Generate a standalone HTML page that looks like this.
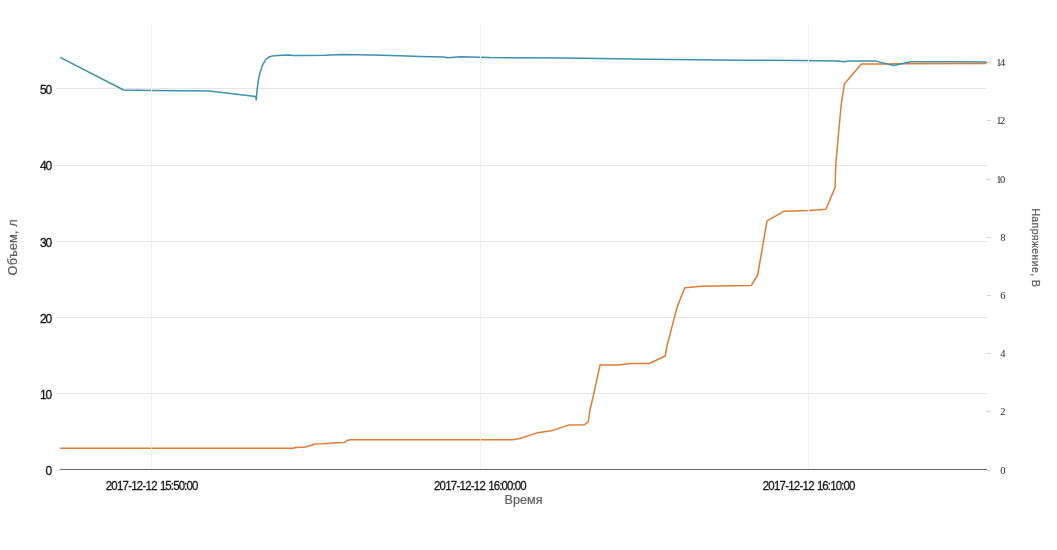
<!DOCTYPE html>
<html><head><meta charset="utf-8"><title>chart</title>
<style>
html,body{margin:0;padding:0;background:#fff;}
body{width:1057px;height:550px;overflow:hidden;font-family:"Liberation Sans",sans-serif;}
svg{display:block;opacity:0.999;will-change:transform;}
.t{font-family:"Liberation Sans",sans-serif;fill:#161616;}
.b{stroke:#161616;stroke-width:0.3px;}
.s{font-family:"Liberation Serif",serif;fill:#2a2a2a;font-size:10.5px;}
.a{font-family:"Liberation Sans",sans-serif;fill:#5e5e5e;stroke:#5e5e5e;stroke-width:0.2px;}
</style></head><body>
<svg width="1057" height="550" viewBox="0 0 1057 550">
<rect width="1057" height="550" fill="#fff"/>
<line x1="56" y1="88.5" x2="987" y2="88.5" stroke="#e6e6e6" stroke-width="1" shape-rendering="crispEdges"/>
<line x1="56" y1="165.0" x2="987" y2="165.0" stroke="#e6e6e6" stroke-width="1" shape-rendering="crispEdges"/>
<line x1="56" y1="241.5" x2="987" y2="241.5" stroke="#e6e6e6" stroke-width="1" shape-rendering="crispEdges"/>
<line x1="56" y1="317.5" x2="987" y2="317.5" stroke="#e6e6e6" stroke-width="1" shape-rendering="crispEdges"/>
<line x1="56" y1="393.5" x2="987" y2="393.5" stroke="#e6e6e6" stroke-width="1" shape-rendering="crispEdges"/>
<line x1="56" y1="470.5" x2="60" y2="470.5" stroke="#e6e6e6" stroke-width="1" shape-rendering="crispEdges"/>
<line x1="987" y1="62.5" x2="991" y2="62.5" stroke="#d4d4d4" stroke-width="1" shape-rendering="crispEdges"/>
<line x1="987" y1="120.5" x2="991" y2="120.5" stroke="#d4d4d4" stroke-width="1" shape-rendering="crispEdges"/>
<line x1="987" y1="179.5" x2="991" y2="179.5" stroke="#d4d4d4" stroke-width="1" shape-rendering="crispEdges"/>
<line x1="987" y1="237.5" x2="991" y2="237.5" stroke="#d4d4d4" stroke-width="1" shape-rendering="crispEdges"/>
<line x1="987" y1="295.5" x2="991" y2="295.5" stroke="#d4d4d4" stroke-width="1" shape-rendering="crispEdges"/>
<line x1="987" y1="353.5" x2="991" y2="353.5" stroke="#d4d4d4" stroke-width="1" shape-rendering="crispEdges"/>
<line x1="987" y1="411.5" x2="991" y2="411.5" stroke="#d4d4d4" stroke-width="1" shape-rendering="crispEdges"/>
<line x1="987" y1="470.5" x2="991" y2="470.5" stroke="#d4d4d4" stroke-width="1" shape-rendering="crispEdges"/>
<polyline points="60.2,448.3 293.5,448.3 295.0,447.5 306.3,446.9 309.4,445.7 312.4,445.0 314.2,443.9 323.0,443.8 332.0,443.0 344.2,442.6 347.2,440.4 350.2,439.8 512.7,439.8 520.0,438.5 536.4,433.1 552.7,430.4 569.1,424.9 584.5,424.7 588.2,421.8 590.0,410.0 594.2,391.8 600.0,365.1 618.2,365.1 630.9,363.6 649.5,363.5 665.2,356.0 666.9,346.2 677.2,306.9 684.8,287.7 701.9,286.2 751.2,285.6 757.7,275.0 767.0,220.8 784.2,211.2 809.8,210.5 826.0,209.3 835.1,187.4 835.8,163.5 841.2,104.3 844.5,83.7 861.4,64.1 884.0,64.1 900.0,63.8 986.6,63.5" fill="none" stroke="#de7d33" stroke-width="1.5" stroke-linejoin="round"/>
<polyline points="60.2,57.4 123.6,90.0 151.6,90.6 209.2,91.0 255.7,96.5 256.2,100.0 257.2,88.7 258.6,78.8 260.3,71.7 262.5,65.2 265.2,60.3 268.5,57.2 272.3,55.9 277.7,55.6 288.7,55.0 293.0,55.6 301.8,55.4 325.0,55.2 341.6,54.5 372.8,55.0 399.9,55.8 420.7,56.4 443.6,57.1 447.8,57.8 460.3,56.8 480.0,57.2 489.4,57.6 520.0,57.7 564.0,58.0 647.6,59.3 741.0,60.2 800.0,60.5 838.0,60.9 843.5,61.8 849.2,61.1 876.2,61.1 883.3,63.1 893.8,65.6 910.7,61.8 955.0,61.8 986.6,61.9" fill="none" stroke="#3a92ad" stroke-width="1.5" stroke-linejoin="round"/>
<line x1="151.5" y1="25" x2="151.5" y2="469" stroke="#f0f0f0" stroke-width="1" shape-rendering="crispEdges"/>
<line x1="480.5" y1="25" x2="480.5" y2="469" stroke="#f0f0f0" stroke-width="1" shape-rendering="crispEdges"/>
<line x1="808.5" y1="25" x2="808.5" y2="469" stroke="#f0f0f0" stroke-width="1" shape-rendering="crispEdges"/>
<line x1="60" y1="469.5" x2="987" y2="469.5" stroke="#666" stroke-width="1" shape-rendering="crispEdges"/>
<text class="t b" x="40.1" y="93.5" font-size="12" textLength="12.2" lengthAdjust="spacing">50</text>
<text class="t b" x="40.1" y="170.0" font-size="12" textLength="12.2" lengthAdjust="spacing">40</text>
<text class="t b" x="40.1" y="246.5" font-size="12" textLength="12.2" lengthAdjust="spacing">30</text>
<text class="t b" x="40.1" y="322.5" font-size="12" textLength="12.2" lengthAdjust="spacing">20</text>
<text class="t b" x="40.1" y="398.5" font-size="12" textLength="12.2" lengthAdjust="spacing">10</text>
<text class="t b" x="52.2" y="475.0" font-size="12" text-anchor="end">0</text>
<text class="s" x="996.2" y="66.0" textLength="9.0" lengthAdjust="spacing">14</text>
<text class="s" x="996.2" y="124.0" textLength="9.0" lengthAdjust="spacing">12</text>
<text class="s" x="996.2" y="183.0" textLength="9.0" lengthAdjust="spacing">10</text>
<text class="s" x="1005.6" y="241.0" text-anchor="end">8</text>
<text class="s" x="1005.6" y="299.0" text-anchor="end">6</text>
<text class="s" x="1005.6" y="357.0" text-anchor="end">4</text>
<text class="s" x="1005.6" y="415.0" text-anchor="end">2</text>
<text class="s" x="1005.6" y="474.0" text-anchor="end">0</text>
<text class="t b" transform="translate(105.7,490.0) scale(0.88,1)" font-size="13" textLength="58.9" lengthAdjust="spacing">2017-12-12</text>
<text class="t b" transform="translate(159.9,490.0) scale(0.88,1)" font-size="13" textLength="43.6" lengthAdjust="spacing">15:50:00</text>
<text class="t b" transform="translate(434.0,490.0) scale(0.88,1)" font-size="13" textLength="58.9" lengthAdjust="spacing">2017-12-12</text>
<text class="t b" transform="translate(488.2,490.0) scale(0.88,1)" font-size="13" textLength="43.6" lengthAdjust="spacing">16:00:00</text>
<text class="t b" transform="translate(762.7,490.0) scale(0.88,1)" font-size="13" textLength="58.9" lengthAdjust="spacing">2017-12-12</text>
<text class="t b" transform="translate(816.9,490.0) scale(0.88,1)" font-size="13" textLength="43.6" lengthAdjust="spacing">16:10:00</text>
<text class="a" x="504.5" y="503.8" font-size="12.6" textLength="38.0" lengthAdjust="spacing">Время</text>
<text class="a" transform="translate(16.8,275.4) rotate(-90)" font-size="12.8" textLength="56" lengthAdjust="spacing">Объем, л</text>
<text class="a" transform="translate(1032.2,208.4) rotate(90)" font-size="10.4" textLength="78.6" lengthAdjust="spacing">Напряжение, В</text>
</svg></body></html>
